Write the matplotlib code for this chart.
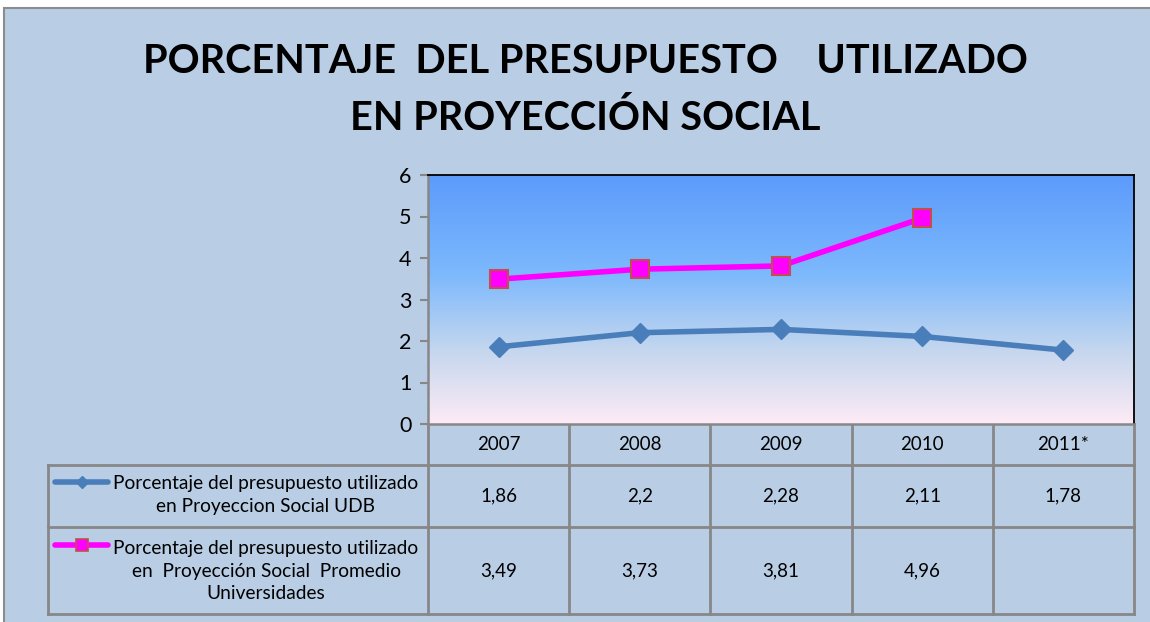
import numpy as np
import matplotlib.pyplot as plt
from matplotlib.colors import LinearSegmentedColormap

plt.rcParams['font.family'] = ['Lato', 'DejaVu Sans']

years = ['2007', '2008', '2009', '2010', '2011*']
udb = [1.86, 2.2, 2.28, 2.11, 1.78]
promedio = [3.49, 3.73, 3.81, 4.96, np.nan]
label_udb = 'Porcentaje del presupuesto utilizado\nen Proyeccion Social UDB'
label_prom = 'Porcentaje del presupuesto utilizado\nen  Proyección Social  Promedio\nUniversidades'
title = 'PORCENTAJE  DEL PRESUPUESTO    UTILIZADO\nEN PROYECCIÓN SOCIAL'

W, H = 1150, 622
bg_col = '#B9CDE5'
grid_col = '#878787'
blue = '#4A7EBB'
magenta = '#FF00FF'

fig = plt.figure(figsize=(W / 100, H / 100), dpi=100, facecolor='white')

# overlay in pixel coords for frame, title and table
ov = fig.add_axes([0, 0, 1, 1], zorder=0)
ov.set_xlim(0, W)
ov.set_ylim(H, 0)
ov.axis('off')
ov.add_patch(plt.Rectangle((4, 8), W, H, facecolor=bg_col, edgecolor='#8C8C8C', lw=1.5))

ov.text(585, 90, title, ha='center', va='center', fontsize=28.5, fontweight='bold',
        linespacing=1.6)

# plot area
x0, x1, y0, y1 = 428, 1134, 175, 424
ax = fig.add_axes([x0 / W, 1 - y1 / H, (x1 - x0) / W, (y1 - y0) / H], zorder=1)
n = len(years)
xs = np.arange(n)

cmap = LinearSegmentedColormap.from_list('grad', [
    (0.0, '#5C9BFB'), (0.4, '#7DB9FD'), (0.7, '#C4D6EE'), (1.0, '#FDEBF6')])
grad = np.linspace(0, 1, 256).reshape(-1, 1)
ax.imshow(grad, cmap=cmap, aspect='auto', extent=(-0.5, n - 0.5, 0, 6), zorder=0)
ax.set_xlim(-0.5, n - 0.5)
ax.set_ylim(0, 6)

ax.plot(xs, udb, color=blue, lw=4, marker='D', ms=10.5, mec=blue, mfc=blue, zorder=3)
ax.plot(xs, promedio, color=magenta, lw=4, marker='s', ms=13, mec='#C0504D',
        mew=1.5, mfc=magenta, zorder=3)

ax.set_xticks([])
ax.set_yticks(range(7))
ax.tick_params(axis='y', direction='out', length=6, width=1.5, color=grid_col,
               labelsize=15.5, pad=6)
for s in ['left', 'bottom']:
    ax.spines[s].set_color(grid_col)
    ax.spines[s].set_linewidth(1.8)
for s in ['top', 'right']:
    ax.spines[s].set_color('black')
    ax.spines[s].set_linewidth(1.3)

# data table
tl = 48
rows = [424, 465, 527, 614]
cw = (x1 - x0) / n
for k in range(n + 1):
    ov.plot([x0 + k * cw] * 2, [rows[0], rows[-1]], color=grid_col, lw=2)
ov.plot([tl, tl], [rows[1], rows[-1]], color=grid_col, lw=2)
for r in rows[1:]:
    ov.plot([tl, x1], [r, r], color=grid_col, lw=2)

def fmt(v):
    return '' if np.isnan(v) else ('%g' % v).replace('.', ',')

fs = 13.5
for k in range(n):
    cx = x0 + (k + 0.5) * cw
    ov.text(cx, (rows[0] + rows[1]) / 2, years[k], ha='center', va='center', fontsize=fs)
    ov.text(cx, (rows[1] + rows[2]) / 2, fmt(udb[k]), ha='center', va='center', fontsize=fs)
    ov.text(cx, (rows[2] + rows[3]) / 2, fmt(promedio[k]), ha='center', va='center', fontsize=fs)

ov.text(266, 495, label_udb, ha='center', va='center', fontsize=13.8, linespacing=1.4)
ov.text(266, 571, label_prom, ha='center', va='center', fontsize=13.8, linespacing=1.4)

ov.plot([55, 108], [482, 482], color=blue, lw=4, solid_capstyle='round')
ov.plot([82], [482], marker='D', ms=6, color=blue)
ov.plot([55, 108], [545, 545], color=magenta, lw=4, solid_capstyle='round')
ov.plot([82], [545], marker='s', ms=8, mfc=magenta, mec='#C0504D', mew=1.2)

fig.savefig('out.png', dpi=100, facecolor=fig.get_facecolor())
